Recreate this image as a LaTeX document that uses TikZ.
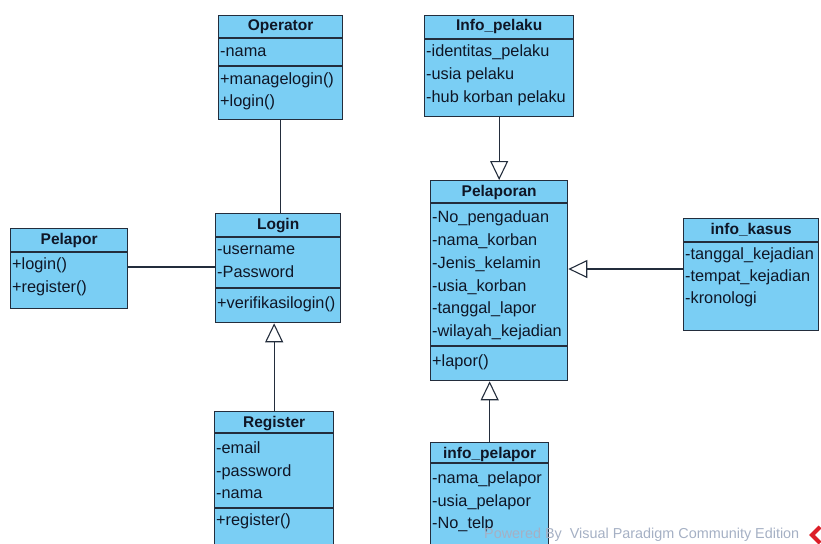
\documentclass[tikz,border=0pt]{standalone}
\usepackage{fontspec}
\setmainfont{Liberation Sans}
\usetikzlibrary{arrows.meta}

\definecolor{classfill}{RGB}{122,206,244}
\definecolor{classline}{RGB}{35,45,60}
\definecolor{classtext}{RGB}{15,22,38}
\definecolor{wmgrey}{RGB}{165,176,196}
\definecolor{wmred}{RGB}{220,30,40}

\tikzset{
  classbox/.style={rectangle, draw=classline, fill=classfill, line width=1.3pt, inner sep=0pt},
  compsep/.style={draw=classline, line width=1.1pt},
  classname/.style={font=\fontsize{15.5}{18}\selectfont\bfseries, text=classtext, inner sep=0pt,
                    text height=11.5pt, text depth=3.5pt},
  member/.style={font=\fontsize{16.3}{19}\selectfont, text=classtext, inner sep=0pt, anchor=west,
                 text height=12pt, text depth=3.5pt},
  assoc/.style={draw=classline, line width=1.1pt},
  gen/.style={assoc, -{Triangle[open, length=19pt, width=18pt, line width=1.1pt]}},
}

% \umlclass{name}{x1}{y1}{x2}{y2}: class frame with its top-left corner at (x1,y1)
\newcommand{\umlclass}[5]{%
  \node[classbox, anchor=north west, minimum width={(#4-#2)*1pt}, minimum height={(#5-#3)*1pt}]
    (#1) at (#2,#3) {};}
% \compline{name}{y}: compartment separator
\newcommand{\compline}[2]{\draw[compsep] (#1.west |- 0,#2) -- (#1.east |- 0,#2);}

\begin{document}
\begin{tikzpicture}[x=1pt, y=-1pt]
\useasboundingbox (0,0) rectangle (821,543);

% ---- Operator
\umlclass{op}{218}{15}{342}{119}
\compline{op}{38}\compline{op}{66}
\node[classname] (op-t) at (op.north |- 0,27) {Operator};
\node[member] (op-a1) at (220,52) {-nama};
\node[member] (op-m1) at (220,80) {+managelogin()};
\node[member] (op-m2) at (220,102) {+login()};

% ---- Login
\umlclass{lg}{215}{213}{340}{322}
\compline{lg}{237}\compline{lg}{288}
\node[classname] (lg-t) at (lg.north |- 0,225) {Login};
\node[member] (lg-a1) at (217,250) {-username};
\node[member] (lg-a2) at (217,273) {-Password};
\node[member] (lg-m1) at (217,304) {+verifikasilogin()};

% ---- Pelapor
\umlclass{pr}{10}{228}{127}{308}
\compline{pr}{252}
\node[classname] (pr-t) at (pr.north |- 0,240) {Pelapor};
\node[member] (pr-m1) at (12,265) {+login()};
\node[member] (pr-m2) at (12,288) {+register()};

% ---- Register
\umlclass{rg}{214}{411}{333}{548}
\compline{rg}{433}\compline{rg}{508}
\node[classname] (rg-t) at (rg.north |- 0,423) {Register};
\node[member] (rg-a1) at (216,449) {-email};
\node[member] (rg-a2) at (216,472) {-password};
\node[member] (rg-a3) at (216,494) {-nama};
\node[member] (rg-m1) at (216,521) {+register()};

% ---- Info_pelaku
\umlclass{pk}{424}{15}{573}{116}
\compline{pk}{39}
\node[classname] (pk-t) at (pk.north |- 0,27) {Info\_pelaku};
\node[member] (pk-a1) at (426,52) {-identitas\_pelaku};
\node[member] (pk-a2) at (426,75) {-usia pelaku};
\node[member] (pk-a3) at (426,98) {-hub korban pelaku};

% ---- Pelaporan
\umlclass{pl}{430}{180}{567}{380}
\compline{pl}{203}\compline{pl}{346}
\node[classname] (pl-t) at (pl.north |- 0,192) {Pelaporan};
\node[member] (pl-a1) at (432,218) {-No\_pengaduan};
\node[member] (pl-a2) at (432,241) {-nama\_korban};
\node[member] (pl-a3) at (432,264) {-Jenis\_kelamin};
\node[member] (pl-a4) at (432,287) {-usia\_korban};
\node[member] (pl-a5) at (432,309) {-tanggal\_lapor};
\node[member] (pl-a6) at (432,332) {-wilayah\_kejadian};
\node[member] (pl-m1) at (432,362) {+lapor()};

% ---- info_kasus
\umlclass{ik}{683}{218}{818}{330}
\compline{ik}{242}
\node[classname] (ik-t) at (ik.north |- 0,230) {info\_kasus};
\node[member] (ik-a1) at (685,255) {-tanggal\_kejadian};
\node[member] (ik-a2) at (685,277) {-tempat\_kejadian};
\node[member] (ik-a3) at (685,299) {-kronologi};

% ---- info_pelapor
\umlclass{ip}{430}{442}{548}{549}
\compline{ip}{463}
\node[classname] (ip-t) at (ip.north |- 0,454) {info\_pelapor};
\node[member] (ip-a1) at (432,479) {-nama\_pelapor};
\node[member] (ip-a2) at (432,502) {-usia\_pelapor};
\node[member] (ip-a3) at (432,524) {-No\_telp};

% ---- associations
\draw[assoc] (op.south) -- (op.south |- lg.north);
\draw[assoc] (pr.east |- 0,267) -- (lg.west |- 0,267);

% ---- generalizations
\draw[gen] (rg.north) -- (rg.north |- lg.south);
\draw[gen] (pk.south) -- (pk.south |- pl.north);
\draw[gen] (ip.north) -- (ip.north |- pl.south);
\draw[gen] (ik.west |- 0,269) -- (pl.east |- 0,269);

% ---- edition mark
\node[anchor=west, text=wmgrey, font=\fontsize{14.4}{17}\selectfont, inner sep=0pt] (wm)
  at (484,535) {Powered By\ \ Visual Paradigm Community Edition};
\draw[wmred, line width=4pt] (820,527) -- (812,535) -- (820,543);
\end{tikzpicture}
\end{document}
